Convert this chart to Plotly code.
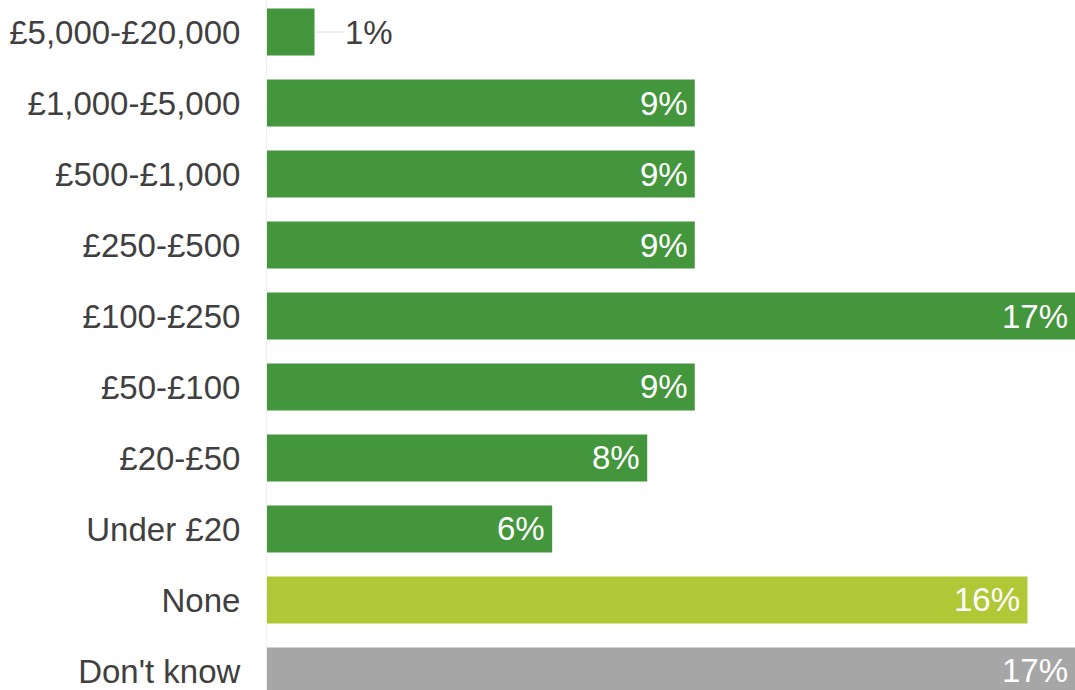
import plotly.graph_objects as go

categories = ["£5,000-£20,000", "£1,000-£5,000", "£500-£1,000", "£250-£500", "£100-£250",
              "£50-£100", "£20-£50", "Under £20", "None", "Don't know"]
values = [1, 9, 9, 9, 17, 9, 8, 6, 16, 17]
labels = ["1%", "9%", "9%", "9%", "17%", "9%", "8%", "6%", "16%", "17%"]
GREEN = "#43963c"
LIME = "#b0c836"
GREY = "#a6a6a6"
colors = [GREEN] * 8 + [LIME, GREY]
FONT = "Liberation Sans, Arial, sans-serif"

fig = go.Figure()
fig.add_trace(go.Bar(
    y=categories, x=values, orientation="h",
    marker=dict(color=colors, line=dict(width=0)),
    width=0.662, hoverinfo="skip",
))

annotations = []
for c, v, t in zip(categories, values, labels):
    if v < 3:
        annotations.append(dict(
            x=v, y=c, xref="x", yref="y", text=t, showarrow=True,
            ax=54, ay=0, arrowhead=0, arrowwidth=1, arrowcolor="#dddddd",
            standoff=0, startstandoff=0,
            font=dict(family=FONT, size=33, color="#404040"),
        ))
    else:
        annotations.append(dict(
            x=v, y=c, xref="x", yref="y", text=t, showarrow=False,
            xanchor="right", xshift=-5,
            font=dict(family=FONT, size=33, color="white"),
        ))

fig.update_layout(
    width=1075, height=690,
    margin=dict(l=267, r=0, t=0, b=0),
    plot_bgcolor="white", paper_bgcolor="white",
    showlegend=False,
    annotations=annotations,
    font=dict(family=FONT, size=33, color="#404040"),
)
fig.update_xaxes(range=[0, 17], showgrid=False, zeroline=False, showticklabels=False,
                 showline=False, fixedrange=True)
fig.update_yaxes(categoryorder="array", categoryarray=categories,
                 range=[9.268, -0.451], showgrid=False, zeroline=False,
                 showline=True, linecolor="#eeeeee", linewidth=1,
                 ticks="outside", ticklen=19, tickcolor="rgba(0,0,0,0)",
                 tickfont=dict(size=33, color="#404040"), fixedrange=True)

fig.write_html("out.html", config={"displayModeBar": False},
               post_script="document.body.style.margin='0';document.body.style.overflow='hidden';")
